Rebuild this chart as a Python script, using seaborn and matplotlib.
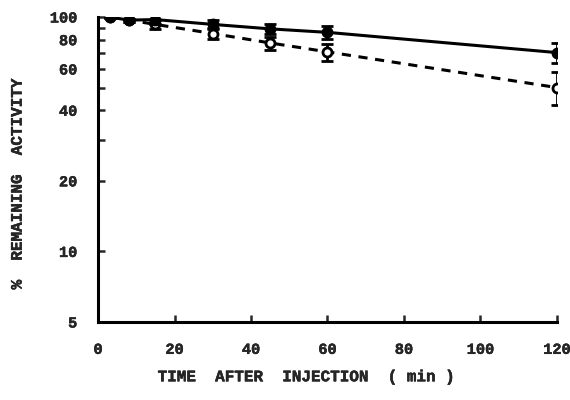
import numpy as np
import pandas as pd
import matplotlib
matplotlib.use("Agg")
import matplotlib.pyplot as plt
import matplotlib.patheffects as pe
import seaborn as sns
from matplotlib.ticker import FixedLocator, FixedFormatter, NullFormatter, NullLocator

# Data
time_min = [3, 8, 15, 30, 45, 60, 120]
solid_activity = [100, 97, 97.5, 93, 89, 86, 70.5]
solid_err = [1, 1.5, 4, 4, 4.5, 5.5, 7]
dashed_activity = [100, 97, 93, 85, 77.5, 71, 50]
dashed_err = [1, 1.5, 4, 4.5, 5, 6, 8]

y_ticks = [5, 10, 20, 40, 60, 80, 100]
y_minor = [30, 50, 70, 90]
x_ticks = [0, 20, 40, 60, 80, 100, 120]

df = pd.DataFrame({
    "time": time_min * 2,
    "activity": solid_activity + dashed_activity,
    "group": ["solid"] * len(time_min) + ["dashed"] * len(time_min),
})

sns.set_style("ticks")
plt.rcParams["font.family"] = ["Liberation Mono", "DejaVu Sans Mono"]

fig = plt.figure(figsize=(5.7, 4), dpi=100)
ax = fig.add_axes([0.172, 0.195, 0.805, 0.7625])

sns.lineplot(data=df[df.group == "solid"], x="time", y="activity",
             color="black", lw=2.2, ax=ax, legend=False)
sns.lineplot(data=df[df.group == "dashed"], x="time", y="activity",
             color="black", lw=2.2, ax=ax, legend=False)
ax.lines[1].set_linestyle((0, (3, 2.5)))

ax.errorbar(time_min, dashed_activity, yerr=dashed_err, fmt="o", ms=6.5,
            mfc="white", mec="black", mew=2, ecolor="black",
            elinewidth=2, capsize=4, capthick=2, zorder=4)
ax.errorbar(time_min, solid_activity, yerr=solid_err, fmt="o", ms=7.5,
            mfc="black", mec="black", ecolor="black",
            elinewidth=2, capsize=4, capthick=2, zorder=5)

ax.set_yscale("log")
ax.set_ylim(5, 100)
ax.set_xlim(0, 120)
ax.yaxis.set_major_locator(FixedLocator(y_ticks))
ax.yaxis.set_major_formatter(FixedFormatter([str(v) for v in y_ticks]))
ax.yaxis.set_minor_locator(FixedLocator(y_minor))
ax.yaxis.set_minor_formatter(NullFormatter())
ax.set_xticks(x_ticks)
ax.xaxis.set_minor_locator(NullLocator())

ax.tick_params(axis="both", which="both", direction="in", width=1.8,
               labelsize=11, pad=15)
ax.tick_params(axis="both", which="major", length=5)
ax.tick_params(axis="y", which="minor", length=5)

# slightly heavier typewriter look
thick = [pe.withStroke(linewidth=0.3, foreground="black")]
for lab in ax.get_xticklabels() + ax.get_yticklabels():
    lab.set_fontweight("bold")
    lab.set_path_effects(thick)

sns.despine(ax=ax)
for side in ["left", "bottom"]:
    ax.spines[side].set_linewidth(2.2)
    ax.spines[side].set_color("black")

ax.set_xlabel("TIME  AFTER  INJECTION  ( min )", fontsize=11.5,
              fontweight="bold", path_effects=thick)
ax.set_ylabel("%  REMAINING  ACTIVITY", fontsize=11.5,
              fontweight="bold", path_effects=thick)
ax.xaxis.set_label_coords(0.455, -0.155)
ax.yaxis.set_label_coords(-0.16, 0.454)

plt.savefig("out.png", dpi=100)
